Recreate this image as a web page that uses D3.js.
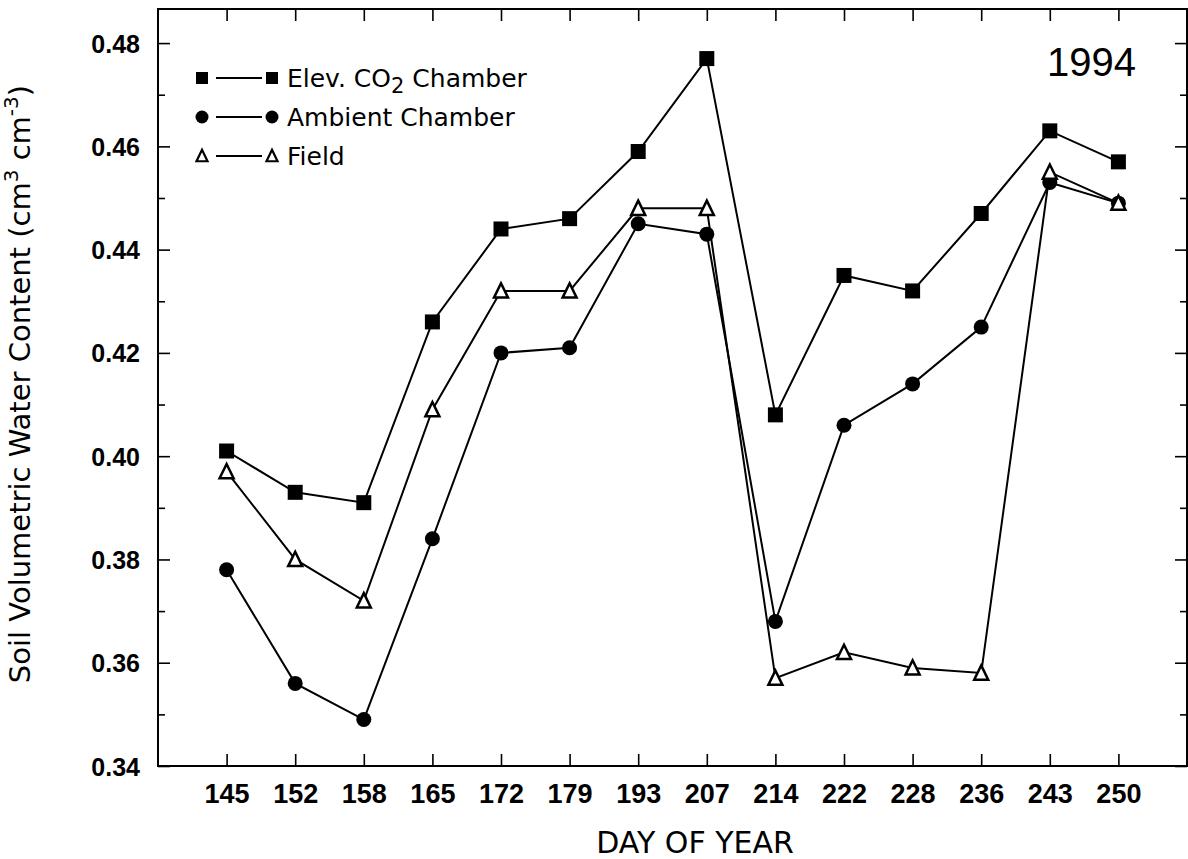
<!DOCTYPE html>
<html>
<head>
<meta charset="utf-8">
<script src="https://cdn.jsdelivr.net/npm/d3@7"></script>
<style>
  html, body { margin: 0; padding: 0; background: #fff; }
  svg { display: block; }
  text { font-family: "Liberation Sans", Arial, sans-serif; fill: #000; }
  .dv { font-family: "DejaVu Sans", "Liberation Sans", sans-serif; }
</style>
</head>
<body>
<svg id="chart" width="1188" height="859"></svg>
<script>
// ---- Data ----
const days = ["145","152","158","165","172","179","193","207","214","222","228","236","243","250"];
const elevCO2 = [0.401,0.393,0.391,0.426,0.444,0.446,0.459,0.477,0.408,0.435,0.432,0.447,0.463,0.457];
const ambient = [0.378,0.356,0.349,0.384,0.420,0.421,0.445,0.443,0.368,0.406,0.414,0.425,0.453,0.449];
const field   = [0.397,0.380,0.372,0.409,0.432,0.432,0.448,0.448,0.357,0.362,0.359,0.358,0.455,0.449];
const yMajorTicks = [0.34,0.36,0.38,0.40,0.42,0.44,0.46,0.48];
const yMinorTicks = [0.35,0.37,0.39,0.41,0.43,0.45,0.47];
const seriesNames = ["Elev. CO2 Chamber","Ambient Chamber","Field"];
const yearLabel = "1994";

// ---- Layout ----
const svg = d3.select("#chart");
const L = 158, R = 1187, T = 9, B = 766;
const x = d3.scaleLinear().domain([-1, 14]).range([L, R]);
const y = d3.scaleLinear().domain([0.34, 0.4866]).range([B, T]);
const idx = d3.range(days.length);

// Frame
svg.append("rect").attr("x", L).attr("y", T).attr("width", R - L).attr("height", B - T)
  .attr("fill", "none").attr("stroke", "#000").attr("stroke-width", 2);

function styleAxis(g) {
  g.select(".domain").remove();
  g.selectAll(".tick line").attr("stroke", "#000").attr("stroke-width", 1.6);
}

// Bottom axis
const gx = svg.append("g").attr("transform", `translate(0,${B})`)
  .call(d3.axisBottom(x).tickValues(idx).tickFormat(i => days[i]).tickSize(-12).tickPadding(0));
styleAxis(gx);
gx.selectAll(".tick text").attr("y", 37).attr("dy", null)
  .style("font-size", "27px").style("font-weight", "bold").style("font-family", "'Liberation Sans', Arial, sans-serif");

// Top axis
const gxt = svg.append("g").attr("transform", `translate(0,${T})`)
  .call(d3.axisTop(x).tickValues(idx).tickFormat("").tickSize(-12));
styleAxis(gxt);

// Left axis
const gy = svg.append("g").attr("transform", `translate(${L},0)`)
  .call(d3.axisLeft(y).tickValues(yMajorTicks).tickFormat(d3.format(".2f")).tickSize(-12).tickPadding(0));
styleAxis(gy);
gy.selectAll(".tick text").attr("x", -18).attr("dy", "0.36em")
  .style("font-size", "25px").style("font-weight", "bold").style("font-family", "'Liberation Sans', Arial, sans-serif");
const gym = svg.append("g").attr("transform", `translate(${L},0)`)
  .call(d3.axisLeft(y).tickValues(yMinorTicks).tickFormat("").tickSize(-7));
styleAxis(gym);

// Right axis
const gyr = svg.append("g").attr("transform", `translate(${R},0)`)
  .call(d3.axisRight(y).tickValues(yMajorTicks).tickFormat("").tickSize(-12));
styleAxis(gyr);
const gyrm = svg.append("g").attr("transform", `translate(${R},0)`)
  .call(d3.axisRight(y).tickValues(yMinorTicks).tickFormat("").tickSize(-7));
styleAxis(gyrm);

// Axis titles
svg.append("text").attr("class", "dv").attr("x", 695).attr("y", 853).attr("text-anchor", "middle")
  .style("font-size", "30px").text("DAY OF YEAR");

const yt = svg.append("text").attr("class", "dv").attr("transform", "translate(30,384) rotate(-90)")
  .attr("text-anchor", "middle").style("font-size", "29px");
yt.append("tspan").text("Soil Volumetric Water Content (cm");
yt.append("tspan").attr("baseline-shift", "super").style("font-size", "20px").text("3");
yt.append("tspan").text(" cm");
yt.append("tspan").attr("baseline-shift", "super").style("font-size", "20px").text("-3");
yt.append("tspan").text(")");

// Year label
svg.append("text").attr("x", 1047).attr("y", 76).style("font-size", "40px").text(yearLabel);

// ---- Series ----
const line = d3.line().x((d, i) => x(i)).y(d => y(d));
const g = svg.append("g");
[elevCO2, ambient, field].forEach(s => {
  g.append("path").datum(s).attr("d", line).attr("fill", "none")
    .attr("stroke", "#000").attr("stroke-width", 2);
});

function square(sel, cx, cy, s) {
  sel.append("rect").attr("x", cx - s / 2).attr("y", cy - s / 2).attr("width", s).attr("height", s).attr("fill", "#000");
}
function circle(sel, cx, cy, r) {
  sel.append("circle").attr("cx", cx).attr("cy", cy).attr("r", r).attr("fill", "#000");
}
function triangle(sel, cx, cy, s, sw) {
  const h = s * 0.95;
  sel.append("path")
    .attr("d", `M${cx},${cy - h / 2 - 1}L${cx + s / 2},${cy + h / 2}L${cx - s / 2},${cy + h / 2}Z`)
    .attr("fill", "#fff").attr("stroke", "#000").attr("stroke-width", sw).attr("stroke-linejoin", "miter");
}

elevCO2.forEach((v, i) => square(g, x(i), y(v), 15));
ambient.forEach((v, i) => circle(g, x(i), y(v), 7.5));
field.forEach((v, i) => triangle(g, x(i), y(v), 14, 2.5));

// ---- Legend ----
const lg = svg.append("g");
const legRows = [78, 117, 156];
const lx1 = 202, lx2 = 272;
legRows.forEach((ry, k) => {
  lg.append("line").attr("x1", lx1 + 14).attr("x2", lx2 - 10).attr("y1", ry).attr("y2", ry)
    .attr("stroke", "#000").attr("stroke-width", 2);
  if (k === 0) { square(lg, lx1, ry, 12); square(lg, lx2, ry, 12); }
  if (k === 1) { circle(lg, lx1, ry, 6.5); circle(lg, lx2, ry, 6.5); }
  if (k === 2) { triangle(lg, lx1, ry, 11, 2.2); triangle(lg, lx2, ry, 11, 2.2); }
});
const t0 = lg.append("text").attr("class", "dv").attr("x", 287).attr("y", legRows[0] + 9).style("font-size", "25px");
t0.append("tspan").text("Elev. CO");
t0.append("tspan").attr("dy", 6).style("font-size", "21px").text("2");
t0.append("tspan").attr("dy", -6).text(" Chamber");
lg.append("text").attr("class", "dv").attr("x", 287).attr("y", legRows[1] + 9).style("font-size", "25px").text(seriesNames[1]);
lg.append("text").attr("class", "dv").attr("x", 287).attr("y", legRows[2] + 9).style("font-size", "25px").text(seriesNames[2]);
</script>
</body>
</html>
